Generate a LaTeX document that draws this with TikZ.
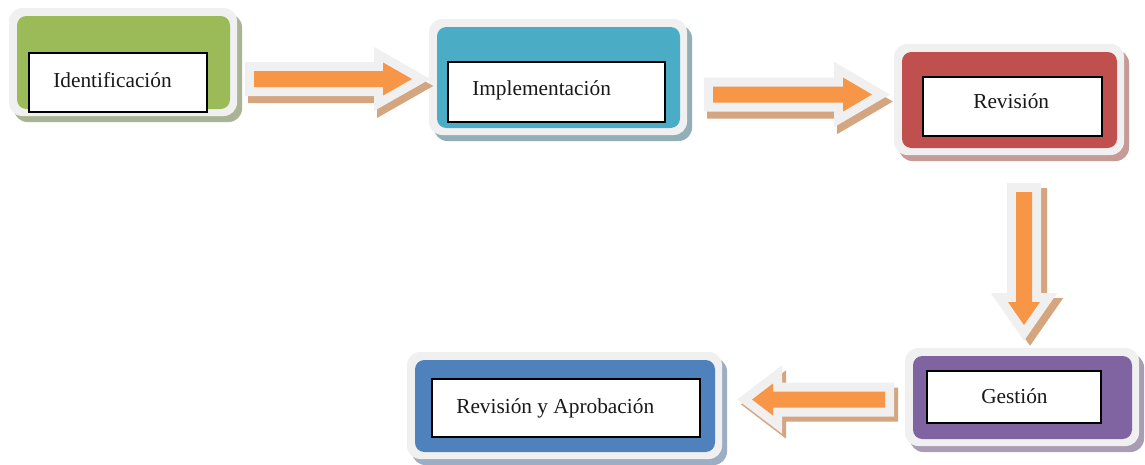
\documentclass[tikz,border=0pt]{standalone}
\usepackage{fontspec}
\setmainfont{Liberation Serif}
\usetikzlibrary{fit}
\definecolor{cgreen}{HTML}{9BBB59}
\definecolor{cteal}{HTML}{4BACC6}
\definecolor{cred}{HTML}{C0504D}
\definecolor{cpurple}{HTML}{8064A2}
\definecolor{cblue}{HTML}{4F81BD}
\definecolor{corange}{HTML}{F79646}
\definecolor{ctan}{HTML}{D4A57F}
\definecolor{cframe}{HTML}{F0F0F0}
\definecolor{sgreen}{HTML}{A9B494}
\definecolor{steal}{HTML}{92AFB8}
\definecolor{sred}{HTML}{C69A96}
\definecolor{spurple}{HTML}{A89DB4}
\definecolor{sblue}{HTML}{9DAEC4}
\tikzset{
  wbox/.style={draw=black, fill=white, line width=1.6pt, inner sep=0pt},
  lbl/.style={inner sep=0pt, font=\fontsize{16}{19}\selectfont, text=black!90},
  arrowshadow/.style={fill=ctan, draw=ctan, line width=13.5pt, line join=miter},
  arrowframe/.style={fill=cframe, draw=cframe, line width=13.5pt, line join=miter},
  arrowfill/.style={fill=corange}
}
\newcommand\stagebox[6]{%
  \fill[#2, rounded corners=10pt] ({#3-8+5},{#4-8+6}) rectangle ({#5+7+5},{#6+7+6});
  \fill[cframe, rounded corners=10pt] ({#3-8},{#4-8}) rectangle ({#5+7},{#6+7});
  \fill[#1, rounded corners=7pt] (#3,#4) rectangle (#5,#6);
}
\newcommand\fatarrow[2]{%
  \path[arrowshadow, shift={#1}] #2;
  \path[arrowframe] #2;
  \path[arrowfill] #2;
}
\begin{document}
\begin{tikzpicture}[x=0.75pt, y=-0.75pt]
\useasboundingbox[fill=white] (0,0) rectangle (1145,464);

% stage boxes
\stagebox{cgreen}{sgreen}{17}{16}{230}{109}
\stagebox{cteal}{steal}{437}{27}{680}{128}
\stagebox{cred}{sred}{902}{52}{1117}{148}
\stagebox{cpurple}{spurple}{913}{356}{1132}{439}
\stagebox{cblue}{sblue}{415}{360}{715}{452}

% white label boxes
\node[wbox, fit={(29,53) (207,112)}] (b1) {};
\node[wbox, fit={(448,62) (665,122)}] (b2) {};
\node[wbox, fit={(923,77) (1102,136)}] (b3) {};
\node[wbox, fit={(927,371) (1101,423)}] (b4) {};
\node[wbox, fit={(432,379) (700,437)}] (b5) {};

\node[lbl, anchor=base west] (t1) at (53,87) {Identificación};
\node[lbl, anchor=base west] (t2) at (472,95) {Implementación};
\node[lbl, anchor=base west] (t3) at (973,108) {Revisión};
\node[lbl, anchor=base west] (t4) at (981,403) {Gestión};
\node[lbl, anchor=base west] (t5) at (456,413) {Revisión y Aprobación};

% block arrows
\fatarrow{(3,7)}{(254,71) -- (383,71) -- (383,62.5) -- (412,79) -- (383,95.5) -- (383,87) -- (254,87) -- cycle}
\fatarrow{(3,7)}{(713,86.5) -- (843,86.5) -- (843,77.5) -- (872,94.5) -- (843,111.5) -- (843,102.5) -- (713,102.5) -- cycle}
\fatarrow{(6,5)}{(1016,192) -- (1016,302) -- (1008,302) -- (1024,325) -- (1040,302) -- (1032,302) -- (1032,192) -- cycle}
\fatarrow{(4,5)}{(885,391.5) -- (773,391.5) -- (773,383.5) -- (752,399.5) -- (773,415.5) -- (773,407.5) -- (885,407.5) -- cycle}
\end{tikzpicture}
\end{document}
